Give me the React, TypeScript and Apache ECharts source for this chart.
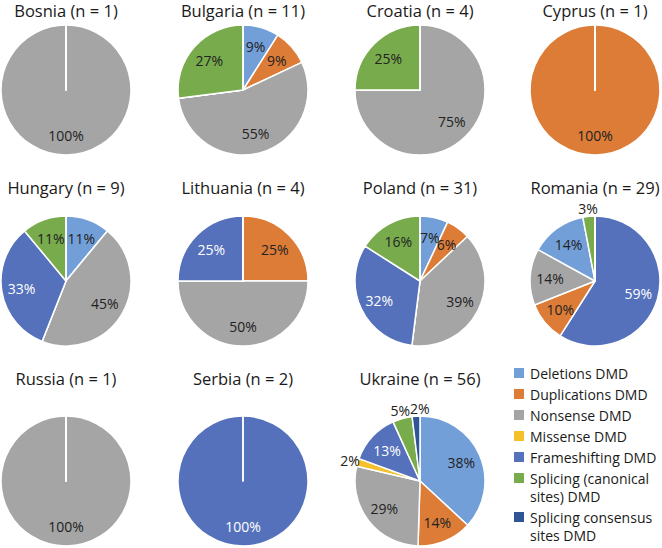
import { useEffect, useRef } from 'react';
import * as echarts from 'echarts';

// ---- data ----
const categories = [
  'Deletions DMD',
  'Duplications DMD',
  'Nonsense DMD',
  'Missense DMD',
  'Frameshifting DMD',
  'Splicing (canonical sites) DMD',
  'Splicing consensus sites DMD',
];
const legendLabels = [
  'Deletions DMD',
  'Duplications DMD',
  'Nonsense DMD',
  'Missense DMD',
  'Frameshifting DMD',
  'Splicing (canonical\nsites) DMD',
  'Splicing consensus\nsites DMD',
];
const categoryColors = ['#729fd8', '#dc7c37', '#a5a5a5', '#f5c12a', '#5571bb', '#78ab4c', '#2f5597'];
const labelColors = ['#222', '#222', '#222', '#222', '#ffffff', '#222', '#222'];

const countries = ['Bosnia', 'Bulgaria', 'Croatia', 'Cyprus', 'Hungary', 'Lithuania', 'Poland', 'Romania', 'Russia', 'Serbia', 'Ukraine'];
const sampleSizes = [1, 11, 4, 1, 9, 4, 31, 29, 1, 2, 56];

// percentages in category order
const bosnia = [0, 0, 100, 0, 0, 0, 0];
const bulgaria = [9, 9, 55, 0, 0, 27, 0];
const croatia = [0, 0, 75, 0, 0, 25, 0];
const cyprus = [0, 100, 0, 0, 0, 0, 0];
const hungary = [11, 0, 45, 0, 33, 11, 0];
const lithuania = [0, 25, 50, 0, 25, 0, 0];
const poland = [7, 6, 39, 0, 32, 16, 0];
const romania = [14, 10, 14, 0, 59, 3, 0];
const russia = [0, 0, 100, 0, 0, 0, 0];
const serbia = [0, 0, 0, 0, 100, 0, 0];
const ukraine = [38, 14, 29, 2, 13, 5, 2];
const countryShares = [bosnia, bulgaria, croatia, cyprus, hungary, lithuania, poland, romania, russia, serbia, ukraine];

// slice order (clockwise from 12 o'clock) when it differs from category order
const sliceOrders: Record<string, number[]> = {
  Romania: [4, 1, 2, 0, 5, 3, 6],
};
// labels drawn just outside the pie
const outsideLabels: Record<string, string[]> = {
  Romania: ['Splicing (canonical sites) DMD'],
  Ukraine: ['Missense DMD', 'Splicing (canonical sites) DMD', 'Splicing consensus sites DMD'],
};

// ---- layout ----
const colX = [66, 243, 420, 595];
const rowY = [90, 281, 481];
const titleY = [10, 187, 378];
const R = 65;
const FONT = '"Open Sans", "Noto Sans", sans-serif';

export default function App() {
  const ref = useRef<HTMLDivElement>(null);
  useEffect(() => {
    document.body.style.margin = '0';
    if (!ref.current) return;
    const chart = echarts.init(ref.current, null, { renderer: 'svg' });

    const series: any[] = [];
    const graphics: any[] = [];

    countries.forEach((country, i) => {
      const row = Math.floor(i / 4);
      const col = i % 4;
      const cx = colX[col];
      const cy = rowY[row];
      const order = sliceOrders[country] || categories.map((_, k) => k);
      const shares = countryShares[i];
      const outside = outsideLabels[country] || [];
      const data = order.map((k) => ({
        name: categories[k],
        value: shares[k],
        itemStyle: { color: categoryColors[k] },
        label: {
          show: shares[k] > 0,
          color: outside.includes(categories[k]) ? '#222' : labelColors[k],
        },
      }));
      series.push({
        type: 'pie',
        name: country,
        center: [cx, cy],
        radius: [0, R],
        startAngle: 90,
        clockwise: true,
        silent: true,
        avoidLabelOverlap: false,
        animation: false,
        itemStyle: { borderColor: '#ffffff', borderWidth: 1.5 },
        label: {
          show: true,
          position: 'inside',
          formatter: '{c}%',
          fontSize: 14,
          fontFamily: FONT,
        },
        labelLine: { show: false },
        emphasis: { disabled: true },
        labelLayout: (params: any) => {
          const r = params.labelRect;
          const lx = r.x + r.width / 2;
          const ly = r.y + r.height / 2;
          const dx = lx - cx;
          const dy = ly - cy;
          const d = Math.hypot(dx, dy) || 1;
          const name = data[params.dataIndex].name;
          const isOut = outside.includes(name);
          const dist = isOut ? 73 : 45;
          const res: any = { x: cx + (dx / d) * dist, y: cy + (dy / d) * dist };
          if (isOut) res.moveOverlap = 'shiftX';
          return res;
        },
        data,
      });
      graphics.push({
        type: 'text',
        x: cx,
        y: titleY[row],
        style: {
          text: `${country} (n = ${sampleSizes[i]})`,
          align: 'center',
          verticalAlign: 'middle',
          fontSize: 16.5,
          lineHeight: 17,
          fontFamily: FONT,
          fill: '#1a1a1a',
        },
      });
    });

    // legend
    let y = 373;
    legendLabels.forEach((label, k) => {
      const lines = label.split('\n').length;
      graphics.push({
        type: 'rect',
        shape: { x: 514, y: y - 5, width: 10, height: 10 },
        style: { fill: categoryColors[k] },
      });
      graphics.push({
        type: 'text',
        x: 530,
        y: y - 9,
        style: {
          text: label,
          align: 'left',
          verticalAlign: 'top',
          fontSize: 14,
          lineHeight: 18,
          fontFamily: FONT,
          fill: '#1a1a1a',
        },
      });
      y += 21 + 18 * (lines - 1);
    });

    chart.setOption({
      animation: false,
      backgroundColor: '#ffffff',
      series,
      graphic: graphics,
    });
    return () => chart.dispose();
  }, []);
  return <div ref={ref} style={{ width: 662, height: 548 }} />;
}
